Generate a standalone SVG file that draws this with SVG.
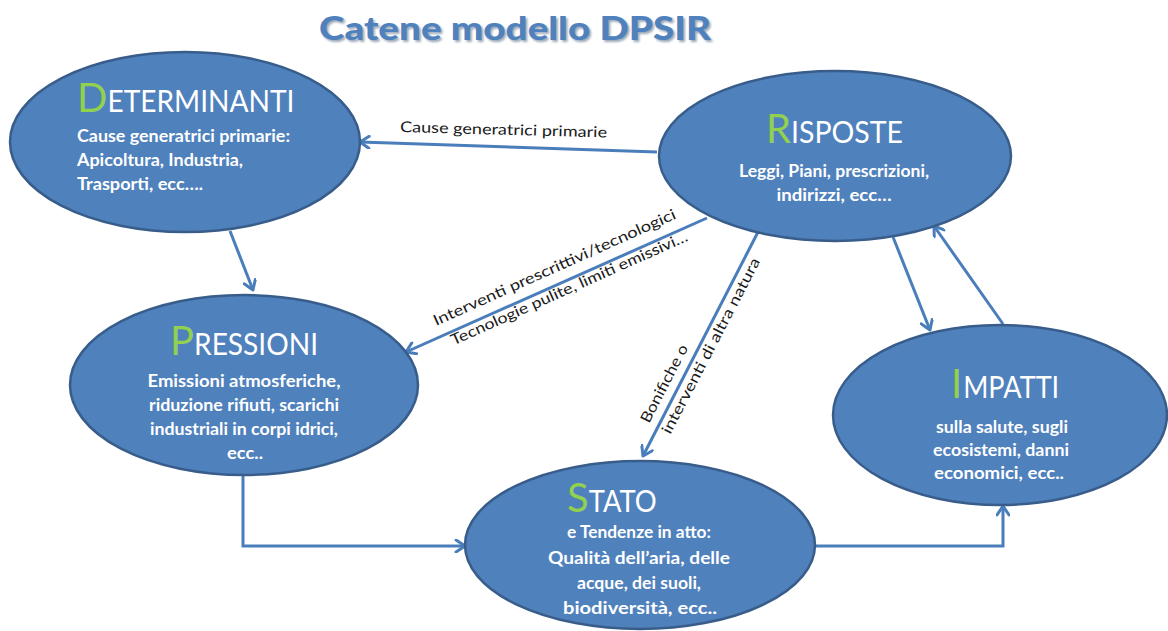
<svg xmlns="http://www.w3.org/2000/svg" width="1168" height="631" viewBox="0 0 1168 631">
<defs>
<style>
.node{fill:#4F81BD;stroke:#385D8A;stroke-width:2.5}
.big{font-family:Lato,"Liberation Sans",sans-serif;fill:#92D050;font-size:40px}
.head{font-family:Lato,"Liberation Sans",sans-serif;fill:#FFFFFF;font-size:30px}
.body{font-family:Lato,"Liberation Sans",sans-serif;fill:#FFFFFF;font-size:16.5px;font-weight:bold}
.lab{font-family:Lato,"Liberation Sans",sans-serif;fill:#1a1a1a;font-size:15px}
.conn{fill:none;stroke:#4A7EBB;stroke-width:3}
.title{font-family:Lato,"Liberation Sans",sans-serif;font-size:33px;font-weight:900}
</style>
<marker id="arr" markerWidth="14" markerHeight="14" refX="11" refY="7" orient="auto" markerUnits="userSpaceOnUse">
<path d="M2,1 L11,7 L2,13" fill="none" stroke="#4A7EBB" stroke-width="3" stroke-linecap="round" stroke-linejoin="round"/>
</marker>
<filter id="sh" x="-10%" y="-30%" width="120%" height="160%">
<feGaussianBlur stdDeviation="1.2"/>
</filter>
</defs>
<rect width="1168" height="631" fill="#FFFFFF"/>

<g id="title">
<text class="title" x="517" y="42" text-anchor="middle" fill="#9AA7B8" filter="url(#sh)" textLength="392" lengthAdjust="spacingAndGlyphs">Catene modello DPSIR</text>
<text class="title" x="515" y="40" text-anchor="middle" fill="#4F81BD" textLength="392" lengthAdjust="spacingAndGlyphs">Catene modello DPSIR</text>
</g>

<g id="connectors">
<line class="conn" x1="657" y1="152" x2="360" y2="142" marker-end="url(#arr)"/>
<line class="conn" x1="230" y1="231" x2="253" y2="290" marker-end="url(#arr)"/>
<line class="conn" x1="707" y1="218" x2="406" y2="352" marker-end="url(#arr)"/>
<line class="conn" x1="758" y1="232" x2="643" y2="456" marker-end="url(#arr)"/>
<line class="conn" x1="893" y1="237" x2="930" y2="330" marker-end="url(#arr)"/>
<line class="conn" x1="1003" y1="324" x2="934" y2="226" marker-end="url(#arr)"/>
<polyline class="conn" points="243,475 243,546 465,546" marker-end="url(#arr)"/>
<polyline class="conn" points="814,546 1003,546 1003,506" marker-end="url(#arr)"/>
<text class="lab" x="400" y="132" transform="rotate(1.5 400 132)" textLength="207" lengthAdjust="spacingAndGlyphs">Cause generatrici primarie</text>
<g transform="translate(436,326) rotate(-24.1)">
<text class="lab" x="0" y="0" textLength="264" lengthAdjust="spacingAndGlyphs">Interventi prescrittivi/tecnologici</text>
<text class="lab" x="8" y="25" textLength="258" lengthAdjust="spacingAndGlyphs">Tecnologie pulite, limiti emissivi…</text>
</g>
<g transform="translate(649,424) rotate(-62.6)">
<text class="lab" x="0" y="0" textLength="86" lengthAdjust="spacingAndGlyphs">Bonifiche o</text>
<text class="lab" x="0" y="24" textLength="196" lengthAdjust="spacingAndGlyphs">interventi di altra natura</text>
</g>
</g>

<g id="determinanti">
<ellipse class="node" cx="185" cy="142" rx="175" ry="90"/>
<text x="77" y="112"><tspan class="big">D</tspan><tspan class="head" textLength="187" lengthAdjust="spacingAndGlyphs">ETERMINANTI</tspan></text>
<text class="body" x="77" y="142" textLength="213" lengthAdjust="spacingAndGlyphs">Cause generatrici primarie:</text>
<text class="body" x="77" y="166" textLength="166" lengthAdjust="spacingAndGlyphs">Apicoltura, Industria,</text>
<text class="body" x="77" y="190" textLength="126" lengthAdjust="spacingAndGlyphs">Trasporti,  ecc….</text>
</g>

<g id="risposte">
<ellipse class="node" cx="835" cy="156" rx="176" ry="85"/>
<text x="766" y="143"><tspan class="big">R</tspan><tspan class="head" textLength="112" lengthAdjust="spacingAndGlyphs">ISPOSTE</tspan></text>
<text class="body" x="834" y="177" text-anchor="middle" textLength="190" lengthAdjust="spacingAndGlyphs">Leggi, Piani, prescrizioni,</text>
<text class="body" x="834" y="201" text-anchor="middle" textLength="115" lengthAdjust="spacingAndGlyphs">indirizzi, ecc…</text>
</g>

<g id="pressioni">
<ellipse class="node" cx="244" cy="385" rx="174" ry="90"/>
<text x="170" y="355"><tspan class="big">P</tspan><tspan class="head" textLength="124" lengthAdjust="spacingAndGlyphs">RESSIONI</tspan></text>
<text class="body" x="244" y="387" text-anchor="middle" textLength="193" lengthAdjust="spacingAndGlyphs">Emissioni atmosferiche,</text>
<text class="body" x="244" y="411" text-anchor="middle" textLength="190" lengthAdjust="spacingAndGlyphs">riduzione rifiuti, scarichi</text>
<text class="body" x="244" y="435" text-anchor="middle" textLength="188" lengthAdjust="spacingAndGlyphs">industriali in  corpi idrici,</text>
<text class="body" x="245" y="459" text-anchor="middle" textLength="36" lengthAdjust="spacingAndGlyphs">ecc..</text>
</g>

<g id="impatti">
<ellipse class="node" cx="1000" cy="415" rx="167" ry="90"/>
<text x="951" y="398"><tspan class="big">I</tspan><tspan class="head" dx="1" textLength="96" lengthAdjust="spacingAndGlyphs">MPATTI</tspan></text>
<text class="body" x="1002" y="433" text-anchor="middle" textLength="132" lengthAdjust="spacingAndGlyphs">sulla salute, sugli</text>
<text class="body" x="1001" y="456" text-anchor="middle" textLength="136" lengthAdjust="spacingAndGlyphs">ecosistemi, danni</text>
<text class="body" x="999" y="479" text-anchor="middle" textLength="130" lengthAdjust="spacingAndGlyphs">economici, ecc..</text>
</g>

<g id="stato">
<ellipse class="node" cx="640" cy="545" rx="175" ry="84"/>
<text x="567" y="512"><tspan class="big">S</tspan><tspan class="head" textLength="68" lengthAdjust="spacingAndGlyphs">TATO</tspan></text>
<text class="body" x="639" y="538" text-anchor="middle" textLength="144" lengthAdjust="spacingAndGlyphs">e Tendenze in atto:</text>
<text class="body" x="639" y="564" text-anchor="middle" textLength="182" lengthAdjust="spacingAndGlyphs">Qualità dell’aria, delle</text>
<text class="body" x="639" y="589" text-anchor="middle" textLength="124" lengthAdjust="spacingAndGlyphs">acque, dei suoli,</text>
<text class="body" x="640" y="614" text-anchor="middle" textLength="154" lengthAdjust="spacingAndGlyphs">biodiversità, ecc..</text>
</g>
</svg>
